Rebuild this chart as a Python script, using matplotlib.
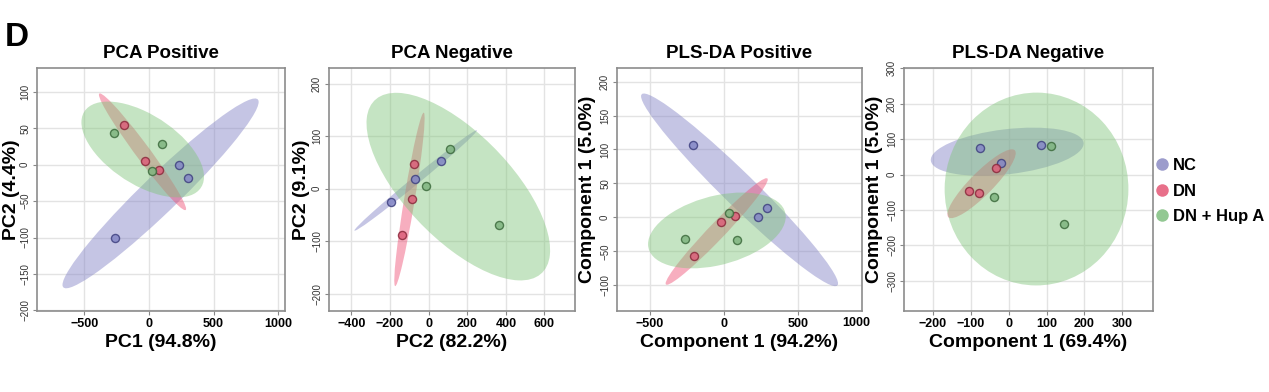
import matplotlib
matplotlib.use('Agg')
import matplotlib.pyplot as plt
import numpy as np
from matplotlib.patches import Ellipse
from matplotlib.lines import Line2D

# ---- data ----
GROUPS = ['NC', 'DN', 'DN + Hup A']

PCA_POS_NC_X = [236, 300, -267]
PCA_POS_NC_Y = [0, -18, -100]
PCA_POS_DN_X = [-197, -31, 77]
PCA_POS_DN_Y = [55, 5.5, -7]
PCA_POS_HUP_X = [-269, 97, 26]
PCA_POS_HUP_Y = [43, 29, -9]

PCA_NEG_NC_X = [64, -71, -195]
PCA_NEG_NC_Y = [53, 19, -25]
PCA_NEG_DN_X = [-76, -86, -136]
PCA_NEG_DN_Y = [47, -20, -88]
PCA_NEG_HUP_X = [110, -15, 366]
PCA_NEG_HUP_Y = [76, 6, -70]

PLS_POS_NC_X = [-206, 294, 228]
PLS_POS_NC_Y = [107, 14, 0.5]
PLS_POS_DN_X = [77, -23, -201]
PLS_POS_DN_Y = [2, -7, -57.5]
PLS_POS_HUP_X = [36, -265, 86]
PLS_POS_HUP_Y = [7, -32, -33]

PLS_NEG_NC_X = [-76, 86, -21]
PLS_NEG_NC_Y = [76, 85, 33]
PLS_NEG_DN_X = [-32, -105, -77]
PLS_NEG_DN_Y = [20, -45, -52]
PLS_NEG_HUP_X = [113, -39, 147]
PLS_NEG_HUP_Y = [80, -63, -139]

TITLES = ['PCA Positive', 'PCA Negative', 'PLS-DA Positive', 'PLS-DA Negative']
XLABELS = ['PC1 (94.8%)', 'PC2 (82.2%)', 'Component 1 (94.2%)', 'Component 1 (69.4%)']
YLABELS = ['PC2 (4.4%)', 'PC2 (9.1%)', 'Component 1 (5.0%)', 'Component 1 (5.0%)']
XTICKS = [[-500, 0, 500, 1000], [-400, -200, 0, 200, 400, 600],
          [-500, 0, 500], [-200, -100, 0, 100, 200, 300]]
YTICKS = [[-200, -150, -100, -50, 0, 50, 100], [-200, -100, 0, 100, 200],
          [-100, -50, 0, 50, 100, 150, 200], [-300, -200, -100, 0, 100, 200, 300]]
XLIMS = [(-868, 1054), (-516, 758), (-722, 932), (-276, 381)]
YLIMS = [(-201, 133), (-233, 230), (-138, 220), (-385, 301)]

PANELS = [
    [(PCA_POS_NC_X, PCA_POS_NC_Y), (PCA_POS_DN_X, PCA_POS_DN_Y), (PCA_POS_HUP_X, PCA_POS_HUP_Y)],
    [(PCA_NEG_NC_X, PCA_NEG_NC_Y), (PCA_NEG_DN_X, PCA_NEG_DN_Y), (PCA_NEG_HUP_X, PCA_NEG_HUP_Y)],
    [(PLS_POS_NC_X, PLS_POS_NC_Y), (PLS_POS_DN_X, PLS_POS_DN_Y), (PLS_POS_HUP_X, PLS_POS_HUP_Y)],
    [(PLS_NEG_NC_X, PLS_NEG_NC_Y), (PLS_NEG_DN_X, PLS_NEG_DN_Y), (PLS_NEG_HUP_X, PLS_NEG_HUP_Y)],
]

# ---- style ----
FILL = {'NC': '#8080c4', 'DN': '#ee4d73', 'DN + Hup A': '#80c47a'}
POINT = {'NC': '#8487c6', 'DN': '#dc5f7a', 'DN + Hup A': '#7fb47f'}
EDGE = {'NC': '#3f4180', 'DN': '#8b2a3c', 'DN + Hup A': '#3d6b3d'}
LEGEND = {'NC': '#9c9ccc', 'DN': '#e8708a', 'DN + Hup A': '#92c892'}

plt.rcParams['font.family'] = ['Liberation Sans', 'DejaVu Sans']
plt.rcParams['font.weight'] = 'bold'

K95 = np.sqrt(-2 * np.log(0.05))  # 95% confidence ellipse, 2 df


def conf_ellipse(ax, xs, ys, color):
    xs = np.asarray(xs, float)
    ys = np.asarray(ys, float)
    cov = np.cov(xs, ys)
    vals, vecs = np.linalg.eigh(cov)
    order = vals.argsort()[::-1]
    vals, vecs = vals[order], vecs[:, order]
    angle = np.degrees(np.arctan2(vecs[1, 0], vecs[0, 0]))
    e = Ellipse((xs.mean(), ys.mean()), 2 * K95 * np.sqrt(vals[0]),
                2 * K95 * np.sqrt(max(vals[1], 0)), angle=angle,
                facecolor=color, edgecolor='none', alpha=0.45, zorder=2)
    ax.add_patch(e)


fig = plt.figure(figsize=(12.69, 3.92), dpi=100)
W, H = 1269, 392
boxes = [(37, 285), (329, 575), (617, 862), (904, 1153)]
ylab_x = [-0.07, -0.078, -0.087, -0.085]
top, bottom = 68, 311

for i, (l, r) in enumerate(boxes):
    ax = fig.add_axes([l / W, 1 - bottom / H, (r - l) / W, (bottom - top) / H])
    for g, (xs, ys) in zip(GROUPS, PANELS[i]):
        conf_ellipse(ax, xs, ys, FILL[g])
    for g, (xs, ys) in zip(GROUPS, PANELS[i]):
        ax.scatter(xs, ys, s=34, c=POINT[g], edgecolors=EDGE[g],
                   linewidths=1.0, alpha=0.85, zorder=3)
    ax.set_xlim(XLIMS[i])
    ax.set_ylim(YLIMS[i])
    ax.set_xticks(XTICKS[i])
    ax.set_yticks(YTICKS[i])
    ax.tick_params(axis='x', labelsize=9, length=3, width=0.8,
                   color='#888888', pad=2)
    ax.tick_params(axis='y', labelsize=7, length=3, width=0.8,
                   color='#888888', pad=2, labelcolor='#333333')
    plt.setp(ax.get_yticklabels(), rotation=90, va='center', fontweight='normal')
    ax.grid(True, color='#e3e3e3', linewidth=1.0, zorder=0)
    ax.set_axisbelow(True)
    for s in ax.spines.values():
        s.set_color('#8c8c8c')
        s.set_linewidth(1.2)
    ax.set_title(TITLES[i], fontsize=13.5, fontweight='bold', pad=7)
    ax.set_xlabel(XLABELS[i], fontsize=14, fontweight='bold', labelpad=3)
    ax.set_ylabel(YLABELS[i], fontsize=14, fontweight='bold')
    ax.yaxis.set_label_coords(ylab_x[i], 0.5)
    if i == 2:
        # stray "1000" label sitting at the right edge in the original
        ax.text(0.975, -0.025, '1000', transform=ax.transAxes, ha='center',
                va='top', fontsize=9, fontweight='bold')

fig.text(5 / W, 1 - 46 / H, 'D', fontsize=24, fontweight='bold', ha='left', va='baseline')

handles = [Line2D([], [], marker='o', linestyle='none', markersize=9,
                  markerfacecolor=LEGEND[g], markeredgecolor='none', label=g)
           for g in GROUPS]
fig.legend(handles=handles, loc='center left', bbox_to_anchor=(1145 / W, 1 - 191 / H),
           frameon=False, handletextpad=0.1, labelspacing=0.62, borderaxespad=0,
           handlelength=1.2, prop={'weight': 'bold', 'size': 12})

fig.savefig('out.png', dpi=100)
